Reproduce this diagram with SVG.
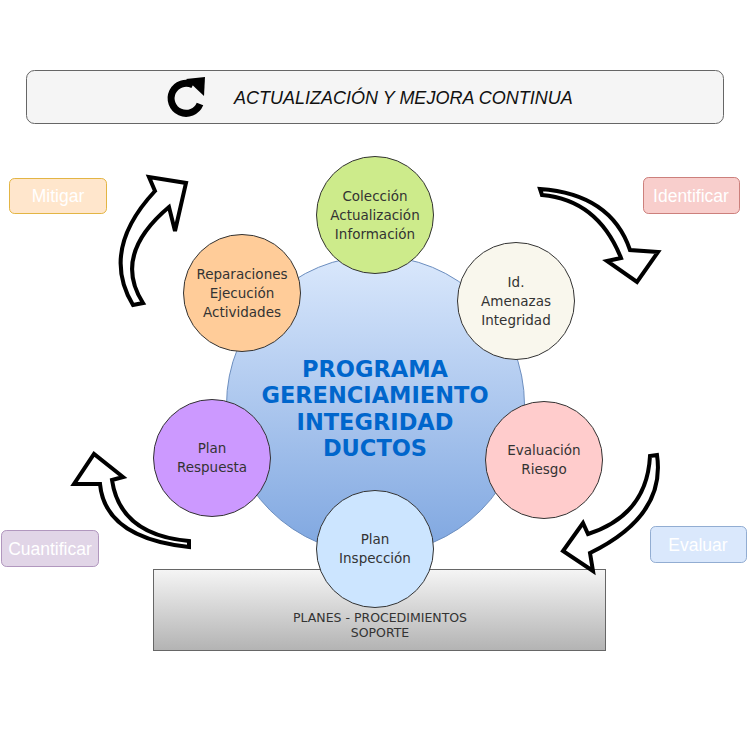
<svg xmlns="http://www.w3.org/2000/svg" width="747" height="746" viewBox="0 0 747 746">
<defs>
<linearGradient id="gCenter" x1="0" y1="0" x2="0" y2="1">
<stop offset="0" stop-color="#dae8fc"/>
<stop offset="1" stop-color="#7ea6e0"/>
</linearGradient>
<linearGradient id="gBase" x1="0" y1="0" x2="0" y2="1">
<stop offset="0" stop-color="#f5f5f5"/>
<stop offset="1" stop-color="#b3b3b3"/>
</linearGradient>
<style>
.node{stroke:#333333;stroke-width:1}
.nt{font-family:"DejaVu Sans","Liberation Sans",sans-serif;font-size:13.5px;fill:#333333;text-anchor:middle}
.ct{font-family:"DejaVu Sans","Liberation Sans",sans-serif;font-weight:bold;font-size:22.5px;fill:#0066cc;text-anchor:middle}
.lab{font-family:"Liberation Sans",Arial,sans-serif;font-size:17.5px;fill:#ffffff;text-anchor:middle}
.arr{fill:#ffffff;stroke:#000000;stroke-width:4;stroke-linejoin:miter}
</style>
</defs>
<rect width="747" height="746" fill="#ffffff"/>

<g id="banner">
<rect x="26.5" y="70.5" width="697" height="53" rx="8" fill="#f5f5f5" stroke="#666666"/>
<path d="M193,85 A15,15 0 1 0 200,104" fill="none" stroke="#000000" stroke-width="7"/>
<polygon points="186,79 205,77 204,96" fill="#000000"/>
<text x="234" y="104" font-family="'Liberation Sans',Arial,sans-serif" font-size="18" font-style="italic" fill="#111111">ACTUALIZACIÓN Y MEJORA CONTINUA</text>
</g>

<g id="base">
<rect x="153.5" y="569.5" width="452" height="81" fill="url(#gBase)" stroke="#666666"/>
<text class="nt" x="380" y="622" style="font-size:12.5px">PLANES - PROCEDIMIENTOS</text>
<text class="nt" x="380" y="637" style="font-size:12.5px">SOPORTE</text>
</g>

<g id="center">
<circle cx="375.5" cy="405" r="149" fill="url(#gCenter)" stroke="#6c8ebf" stroke-width="1"/>
<text class="ct" x="375" y="377">PROGRAMA</text>
<text class="ct" x="375" y="403">GERENCIAMIENTO</text>
<text class="ct" x="375" y="430">INTEGRIDAD</text>
<text class="ct" x="375" y="456">DUCTOS</text>
</g>

<g id="connectors">
<path class="arr" d="M133,305 Q100,250 155,191 L149,177 L186,183 L175,231 L169,207 Q112,255 143,303 Z"/>
<path class="arr" d="M540,189 Q611,194 630,250 L658,252 L637,282 L607,261 L621,258 Q598,200 542,195 Z"/>
<path class="arr" d="M657,455 Q666,516 590,553 L593,571 L563,551 L583,523 L588,534 Q647,515 650,456 Z"/>
<path class="arr" d="M189,547 Q105,538 100,484 L74,484 L94,454 L123,477 L112,480 Q120,535 189,541 Z"/>
</g>

<g id="n-coleccion">
<circle class="node" cx="375" cy="215" r="58.5" fill="#cdeb8b"/>
<text class="nt" x="375" y="201">Colección</text>
<text class="nt" x="375" y="220">Actualización</text>
<text class="nt" x="375" y="239">Información</text>
</g>
<g id="n-amenazas">
<circle class="node" cx="516" cy="301" r="58.5" fill="#f9f7ed"/>
<text class="nt" x="516" y="287">Id.</text>
<text class="nt" x="516" y="306">Amenazas</text>
<text class="nt" x="516" y="325">Integridad</text>
</g>
<g id="n-evaluacion">
<circle class="node" cx="544" cy="460" r="58.5" fill="#ffcccc"/>
<text class="nt" x="544" y="455">Evaluación</text>
<text class="nt" x="544" y="474">Riesgo</text>
</g>
<g id="n-inspeccion">
<circle class="node" cx="375" cy="549" r="58.5" fill="#cce5ff"/>
<text class="nt" x="375" y="544">Plan</text>
<text class="nt" x="375" y="563">Inspección</text>
</g>
<g id="n-respuesta">
<circle class="node" cx="212" cy="458" r="58.5" fill="#cc99ff"/>
<text class="nt" x="212" y="453">Plan</text>
<text class="nt" x="212" y="472">Respuesta</text>
</g>
<g id="n-reparaciones">
<circle class="node" cx="242" cy="293" r="58.5" fill="#ffcc99"/>
<text class="nt" x="242" y="279">Reparaciones</text>
<text class="nt" x="242" y="298">Ejecución</text>
<text class="nt" x="242" y="317">Actividades</text>
</g>

<g id="l-mitigar">
<rect x="9.5" y="178.5" width="97" height="35" rx="5" fill="#ffe6cc" stroke="#d79b00" stroke-opacity="0.7"/>
<text class="lab" x="58" y="202">Mitigar</text>
</g>
<g id="l-identificar">
<rect x="643.5" y="177.5" width="96" height="36" rx="5" fill="#f8cecc" stroke="#b85450" stroke-opacity="0.7"/>
<text class="lab" x="691" y="201.5">Identificar</text>
</g>
<g id="l-cuantificar">
<rect x="1.5" y="530.5" width="97" height="36" rx="5" fill="#e1d5e7" stroke="#9673a6" stroke-opacity="0.7"/>
<text class="lab" x="50" y="554.5">Cuantificar</text>
</g>
<g id="l-evaluar">
<rect x="650.5" y="526.5" width="96" height="36" rx="5" fill="#dae8fc" stroke="#6c8ebf" stroke-opacity="0.7"/>
<text class="lab" x="698" y="550.5">Evaluar</text>
</g>
</svg>
